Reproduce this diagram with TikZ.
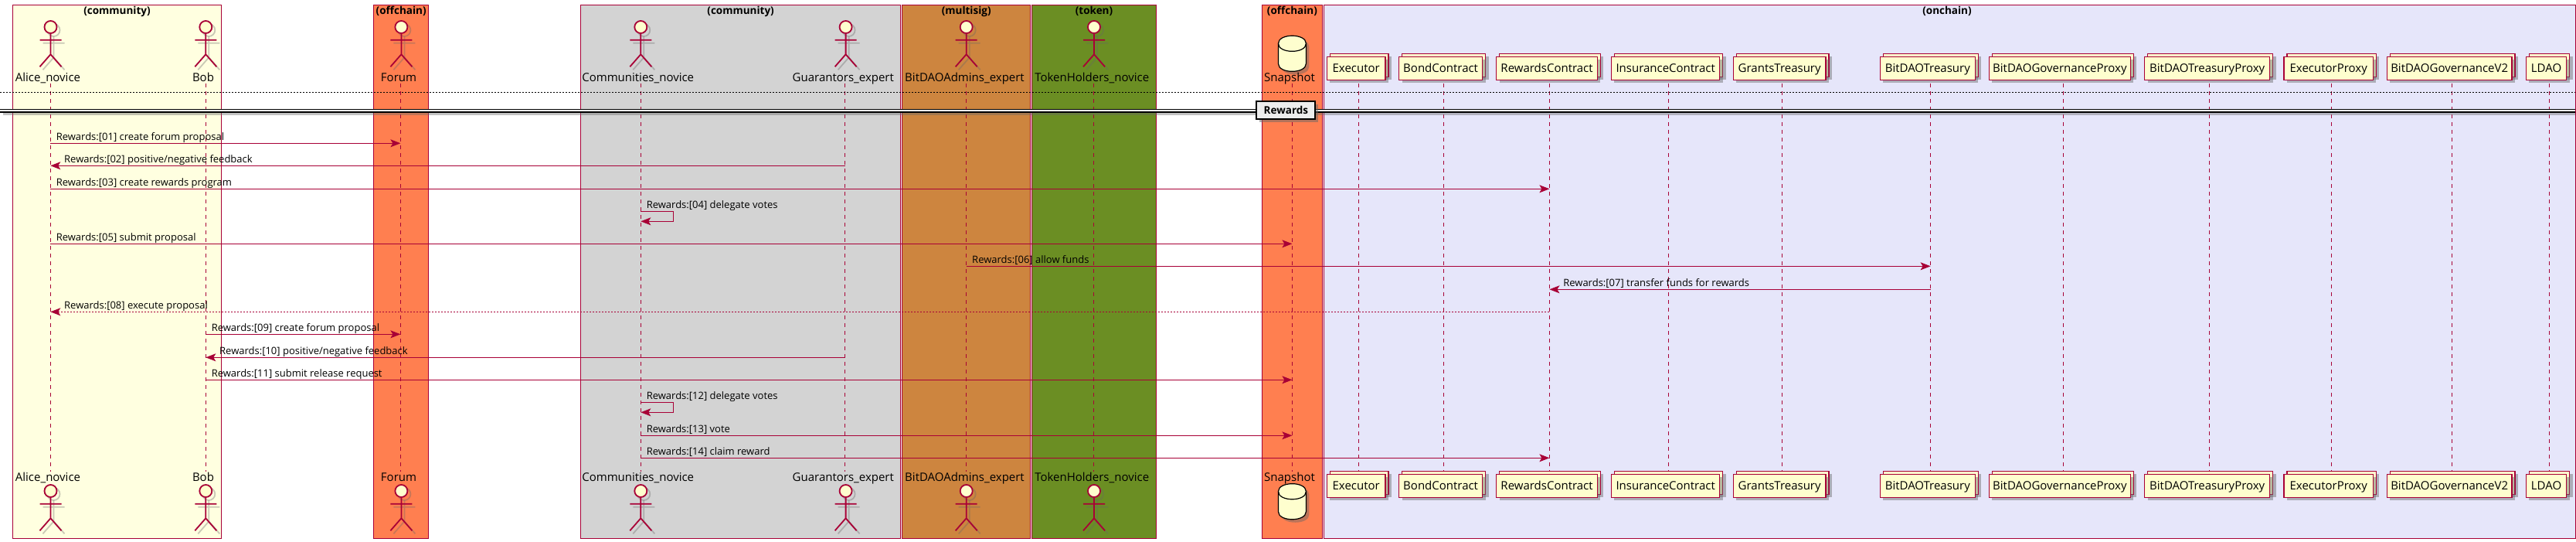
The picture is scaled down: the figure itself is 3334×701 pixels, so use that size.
\documentclass[tikz,border=0pt]{standalone}
\usepackage{fontspec}
\setmainfont{Open Sans}
\usepackage{tikz}
\usetikzlibrary{arrows.meta, positioning, shadows}

\definecolor{plantred}{HTML}{A80036}
\definecolor{plantcream}{HTML}{FEFECE}
\definecolor{lightyel}{HTML}{FFFFE0}
\definecolor{coralband}{HTML}{FF7F50}
\definecolor{grayband}{HTML}{D3D3D3}
\definecolor{peruband}{HTML}{CD853F}
\definecolor{oliveband}{HTML}{6B8E23}
\definecolor{lavband}{HTML}{E6E6FA}

\begin{document}
\begin{tikzpicture}[
    x=1pt, y=-1pt,
    group/.style={draw=plantred, line width=1pt},
    grouptitle/.style={font=\fontsize{13.5}{15}\selectfont\bfseries},
    actorname/.style={anchor=base, inner sep=0pt, font=\fontsize{15}{17}\selectfont},
    contract/.style={rectangle, draw=plantred, fill=plantcream, line width=1.2pt, inner sep=0pt, outer sep=0pt,
        minimum height=30pt, text height=10.8pt, text depth=0pt, font=\fontsize{15}{17}\selectfont,
        general shadow={shadow xshift=8pt, shadow yshift=0pt, fill=black!60, opacity=.45},
        general shadow={shadow xshift=4pt, shadow yshift=4pt, fill=plantcream, draw=plantred, opacity=1},
        general shadow={shadow xshift=4pt, shadow yshift=-4pt, fill=black!60, opacity=.45}},
    lifeline/.style={draw=plantred, line width=.8pt, dash pattern=on 5pt off 5pt},
    arrow/.style={-{Stealth[length=13pt, width=10pt, inset=3pt]}, draw=plantred, line width=1pt},
    ret/.style={arrow, dash pattern=on 2pt off 2pt},
    msgr/.style={pos=0, anchor=base west, inner sep=0pt, xshift=7pt, yshift=4.3pt, font=\fontsize{13}{15}\selectfont},
    msgl/.style={pos=1, anchor=base west, inner sep=0pt, xshift=17.4pt, yshift=4.3pt, font=\fontsize{13}{15}\selectfont},
    stickman/.pic={
        \begin{scope}[shift={(4,4)}, draw=black!60, opacity=.35, line width=1.8pt]
        \draw (0,35) circle [radius=8];
        \draw (0,43.3) -- (0,70.3) (-14,51.7) -- (14,51.7) (-14,86.3) -- (0,70.3) -- (14,86.3);
        \end{scope}
        \draw[plantred, line width=1.8pt, fill=plantcream] (0,35) circle [radius=8];
        \draw[plantred, line width=1.8pt] (0,43.3) -- (0,70.3) (-14,51.7) -- (14,51.7) (-14,86.3) -- (0,70.3) -- (14,86.3);
    },
    drum/.pic={
        \fill[black!60, opacity=.45, shift={(4,4)}] (-18,56.3) .. controls (-18,42.9) and (18,42.9) .. (18,56.3) -- (18,82.3) .. controls (18,95.7) and (-18,95.7) .. (-18,82.3) -- cycle;
        \draw[black, line width=1.2pt, fill=plantcream] (-18,56.3) .. controls (-18,42.9) and (18,42.9) .. (18,56.3) -- (18,82.3) .. controls (18,95.7) and (-18,95.7) .. (-18,82.3) -- cycle;
        \draw[black, line width=1.2pt] (-18,56.3) .. controls (-18,69.7) and (18,69.7) .. (18,56.3);
    }
]
\useasboundingbox (0,0) rectangle (3334,701);

% coloured bands
\draw[group, fill=lightyel] (16.3,6.3) rectangle (286.7,696.7);
\draw[group, fill=coralband] (483.7,6.3) rectangle (554.6,696.7);
\draw[group, fill=grayband] (751.7,6.3) rectangle (1165.5,696.7);
\draw[group, fill=peruband] (1167.6,6.3) rectangle (1333.9,696.7);
\draw[group, fill=oliveband] (1335.4,6.3) rectangle (1496.6,696.7);
\draw[group, fill=coralband] (1633.5,6.3) rectangle (1711.4,696.7);
\draw[group, fill=lavband] (1713,6.3) rectangle (3333,696.7);
\node[grouptitle] (g1) at (151.5,14.7) {(community)};
\node[grouptitle] (g2) at (519.2,14.7) {(offchain)};
\node[grouptitle] (g3) at (958.6,14.7) {(community)};
\node[grouptitle] (g4) at (1250.7,14.7) {(multisig)};
\node[grouptitle] (g5) at (1416,14.7) {(token)};
\node[grouptitle] (g6) at (1672.4,14.7) {(offchain)};
\node[grouptitle] (g7) at (2520,14.7) {(onchain)};

% lifelines
\coordinate (alice) at (65.3,108); \coordinate (alice2) at (65.3,610);
\coordinate (bob) at (266.3,108); \coordinate (bob2) at (266.3,610);
\coordinate (forum) at (518.4,108); \coordinate (forum2) at (518.4,610);
\coordinate (communities) at (829.3,108); \coordinate (communities2) at (829.3,610);
\coordinate (guarantors) at (1093.6,108); \coordinate (guarantors2) at (1093.6,610);
\coordinate (admins) at (1250.7,108); \coordinate (admins2) at (1250.7,610);
\coordinate (holders) at (1415.5,108); \coordinate (holders2) at (1415.5,610);
\coordinate (snapshot) at (1672.4,108); \coordinate (snapshot2) at (1672.4,610);
\coordinate (executor) at (1758.5,108); \coordinate (executor2) at (1758.5,610);
\coordinate (bond) at (1868.8,108); \coordinate (bond2) at (1868.8,610);
\coordinate (rewards) at (2005.4,108); \coordinate (rewards2) at (2005.4,610);
\coordinate (insurance) at (2159.5,108); \coordinate (insurance2) at (2159.5,610);
\coordinate (grants) at (2306.5,108); \coordinate (grants2) at (2306.5,610);
\coordinate (treasury) at (2498.6,108); \coordinate (treasury2) at (2498.6,610);
\coordinate (govproxy) at (2670.2,108); \coordinate (govproxy2) at (2670.2,610);
\coordinate (tproxy) at (2859.6,108); \coordinate (tproxy2) at (2859.6,610);
\coordinate (eproxy) at (3017.5,108); \coordinate (eproxy2) at (3017.5,610);
\coordinate (govv2) at (3173,108); \coordinate (govv22) at (3173,610);
\coordinate (ldao) at (3299.4,108); \coordinate (ldao2) at (3299.4,610);
\draw[lifeline] (alice) -- (alice2);
\draw[lifeline] (bob) -- (bob2);
\draw[lifeline] (forum) -- (forum2);
\draw[lifeline] (communities) -- (communities2);
\draw[lifeline] (guarantors) -- (guarantors2);
\draw[lifeline] (admins) -- (admins2);
\draw[lifeline] (holders) -- (holders2);
\draw[lifeline] (snapshot) -- (snapshot2);
\draw[lifeline] (executor) -- (executor2);
\draw[lifeline] (bond) -- (bond2);
\draw[lifeline] (rewards) -- (rewards2);
\draw[lifeline] (insurance) -- (insurance2);
\draw[lifeline] (grants) -- (grants2);
\draw[lifeline] (treasury) -- (treasury2);
\draw[lifeline] (govproxy) -- (govproxy2);
\draw[lifeline] (tproxy) -- (tproxy2);
\draw[lifeline] (eproxy) -- (eproxy2);
\draw[lifeline] (govv2) -- (govv22);
\draw[lifeline] (ldao) -- (ldao2);

% dotted rule and section divider
\coordinate (dotl) at (0,119.3); \coordinate (dotr) at (3333,119.3);
\draw[black, line width=1pt, dash pattern=on 2pt off 2pt] (dotl) -- (dotr);
\fill[black!60, opacity=.4] (4,145) rectangle (3333,149);
\fill[white] (0,141.3) rectangle (3333,145);
\coordinate (divl) at (0,141.3); \coordinate (divr) at (3333,141.3);
\coordinate (divl2) at (0,145); \coordinate (divr2) at (3333,145);
\draw[black, line width=1.2pt] (divl) -- (divr);
\draw[black, line width=1.2pt] (divl2) -- (divr2);
\node[rectangle, draw=black, fill=black!7, line width=2pt, minimum width=76pt, minimum height=23.5pt, inner sep=0pt,
    font=\fontsize{13.5}{16}\selectfont\bfseries, drop shadow={shadow xshift=4pt, shadow yshift=-4pt, fill=black!60, opacity=.5}] (rewardsdiv) at (1664.4,142.3) {Rewards};

% actors, top row
\pic (a1) at (65.5,0) {stickman};
\pic (a2) at (266.3,0) {stickman};
\pic (a3) at (519.4,0) {stickman};
\pic (a4) at (829.3,0) {stickman};
\pic (a5) at (1094.6,0) {stickman};
\pic (a6) at (1250.7,0) {stickman};
\pic (a7) at (1416,0) {stickman};
\pic (db1) at (1672.4,0) {drum};
\node[actorname] (alicet) at (62,105.3) {Alice\_novice};
\node[actorname] (bobt) at (263,105.3) {Bob};
\node[actorname] (forumt) at (516,105.3) {Forum};
\node[actorname] (communitiest) at (825.7,105.3) {Communities\_novice};
\node[actorname] (guarantorst) at (1091.3,105.3) {Guarantors\_expert};
\node[actorname] (adminst) at (1248.5,105.3) {BitDAOAdmins\_expert};
\node[actorname] (holderst) at (1413.2,105.3) {TokenHolders\_novice};
\node[actorname] (snapshott) at (1669,105.3) {Snapshot};

% actors, bottom row
\pic (a8) at (65.5,600) {stickman};
\pic (a9) at (266.3,600) {stickman};
\pic (a10) at (519.4,600) {stickman};
\pic (a11) at (829.3,600) {stickman};
\pic (a12) at (1094.6,600) {stickman};
\pic (a13) at (1250.7,600) {stickman};
\pic (a14) at (1416,600) {stickman};
\pic (db2) at (1672.4,579.4) {drum};
\node[actorname] (aliceb) at (62,622.3) {Alice\_novice};
\node[actorname] (bobb) at (263,622.3) {Bob};
\node[actorname] (forumb) at (516,622.3) {Forum};
\node[actorname] (communitiesb) at (825.7,622.3) {Communities\_novice};
\node[actorname] (guarantorsb) at (1091.3,622.3) {Guarantors\_expert};
\node[actorname] (adminsb) at (1248.5,622.3) {BitDAOAdmins\_expert};
\node[actorname] (holdersb) at (1413.2,622.3) {TokenHolders\_novice};
\node[actorname] (snapshotb) at (1669,622.3) {Snapshot};

% contracts, top row
\node[contract, minimum width=75.7pt] (c1) at (1755.2,88.3) {Executor};
\node[contract, minimum width=108.1pt, right=17.5pt of c1] (c2) {BondContract};
\node[contract, minimum width=130.6pt, right=18.1pt of c2] (c3) {RewardsContract};
\node[contract, minimum width=140.4pt, right=18.1pt of c3] (c4) {InsuranceContract};
\node[contract, minimum width=119.6pt, right=17.5pt of c4] (c5) {GrantsTreasury};
\node[contract, minimum width=123.3pt, right=70.2pt of c5] (c6) {BitDAOTreasury};
\node[contract, minimum width=183.2pt, right=17.8pt of c6] (c7) {BitDAOGovernanceProxy};
\node[contract, minimum width=161.9pt, right=18.3pt of c7] (c8) {BitDAOTreasuryProxy};
\node[contract, minimum width=115.5pt, right=18.3pt of c8] (c9) {ExecutorProxy};
\node[contract, minimum width=161.8pt, right=17.8pt of c9] (c10) {BitDAOGovernanceV2};
\node[contract, minimum width=52.2pt, right=18.4pt of c10] (c11) {LDAO};

% contracts, bottom row
\node[contract, minimum width=75.7pt, below=510pt of c1] (d1) {Executor};
\node[contract, minimum width=108.1pt, below=510pt of c2] (d2) {BondContract};
\node[contract, minimum width=130.6pt, below=510pt of c3] (d3) {RewardsContract};
\node[contract, minimum width=140.4pt, below=510pt of c4] (d4) {InsuranceContract};
\node[contract, minimum width=119.6pt, below=510pt of c5] (d5) {GrantsTreasury};
\node[contract, minimum width=123.3pt, below=510pt of c6] (d6) {BitDAOTreasury};
\node[contract, minimum width=183.2pt, below=510pt of c7] (d7) {BitDAOGovernanceProxy};
\node[contract, minimum width=161.9pt, below=510pt of c8] (d8) {BitDAOTreasuryProxy};
\node[contract, minimum width=115.5pt, below=510pt of c9] (d9) {ExecutorProxy};
\node[contract, minimum width=161.8pt, below=510pt of c10] (d10) {BitDAOGovernanceV2};
\node[contract, minimum width=52.2pt, below=510pt of c11] (d11) {LDAO};

% messages
\coordinate (m1) at (0,185.3);
\coordinate (m2) at (0,214.3);
\coordinate (m3) at (0,244.3);
\coordinate (m5) at (0,315.3);
\coordinate (m6) at (0,344.3);
\coordinate (m7) at (0,374.3);
\coordinate (m8) at (0,403.3);
\coordinate (m9) at (0,432.3);
\coordinate (m10) at (0,462.3);
\coordinate (m11) at (0,491.3);
\coordinate (m13) at (0,563.3);
\coordinate (m14) at (0,592.3);
\coordinate (s4a) at (829.3,273.3); \coordinate (s4b) at (871.6,273.3);
\coordinate (s4c) at (871.6,286.3); \coordinate (s4d) at (829.3,286.3);
\coordinate (s12a) at (829.3,520.3); \coordinate (s12b) at (871.6,520.3);
\coordinate (s12c) at (871.6,533.3); \coordinate (s12d) at (829.3,533.3);
\draw[arrow] (alice |- m1) -- node[msgr] (t1) {Rewards:[01] create forum proposal} (forum |- m1);
\draw[arrow] (guarantors |- m2) -- node[msgl] (t2) {Rewards:[02] positive/negative feedback} (alice |- m2);
\draw[arrow] (alice |- m3) -- node[msgr] (t3) {Rewards:[03] create rewards program} (rewards |- m3);
\draw[arrow] (s4a) -- node[msgr] (t4) {Rewards:[04] delegate votes} (s4b) -- (s4c) -- (s4d);
\draw[arrow] (alice |- m5) -- node[msgr] (t5) {Rewards:[05] submit proposal} (snapshot |- m5);
\draw[arrow] (admins |- m6) -- node[msgr] (t6) {Rewards:[06] allow funds} (treasury |- m6);
\draw[arrow] (treasury |- m7) -- node[msgl] (t7) {Rewards:[07] transfer funds for rewards} (rewards |- m7);
\draw[ret] (rewards |- m8) -- node[msgl] (t8) {Rewards:[08] execute proposal} (alice |- m8);
\draw[arrow] (bob |- m9) -- node[msgr] (t9) {Rewards:[09] create forum proposal} (forum |- m9);
\draw[arrow] (guarantors |- m10) -- node[msgl] (t10) {Rewards:[10] positive/negative feedback} (bob |- m10);
\draw[arrow] (bob |- m11) -- node[msgr] (t11) {Rewards:[11] submit release request} (snapshot |- m11);
\draw[arrow] (s12a) -- node[msgr] (t12) {Rewards:[12] delegate votes} (s12b) -- (s12c) -- (s12d);
\draw[arrow] (communities |- m13) -- node[msgr] (t13) {Rewards:[13] vote} (snapshot |- m13);
\draw[arrow] (communities |- m14) -- node[msgr] (t14) {Rewards:[14] claim reward} (rewards |- m14);
\end{tikzpicture}
\end{document}
